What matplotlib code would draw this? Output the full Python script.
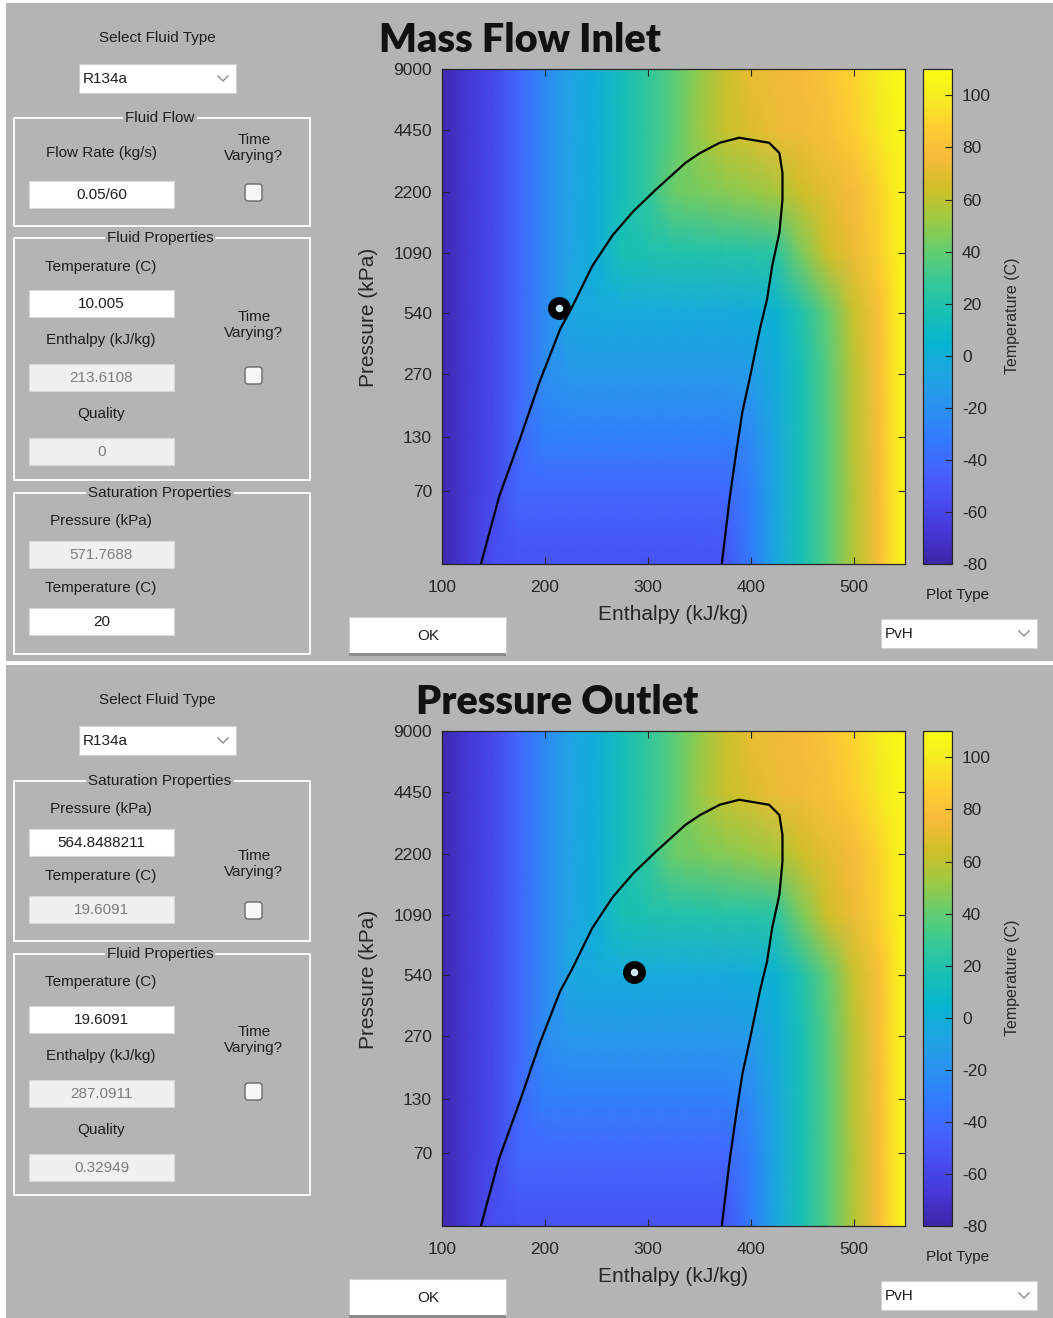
import numpy as np
import matplotlib.pyplot as plt
from matplotlib.colors import LinearSegmentedColormap
from matplotlib.patches import Rectangle, FancyBboxPatch

plt.rcParams['axes.unicode_minus'] = False
plt.rcParams['font.family'] = ['Liberation Sans', 'DejaVu Sans']

# temperature map (C) on an enthalpy / pressure grid
enthalpy = [100, 125, 150, 175, 200, 225, 250, 275, 300, 325,
            350, 375, 400, 425, 450, 475, 500, 525, 550]
pressure = [30, 70, 130, 270, 540, 1090, 2200, 4450, 9000]
temp_p30 = [-78, -67, -55, -53, -53, -53, -53, -53, -53, -53, -53, -52, -32, -5, 17, 36, 58, 79, 110]
temp_p70 = [-78, -67, -57, -42, -42, -42, -42, -42, -42, -42, -42, -42, -30, -5, 17, 36, 58, 79, 110]
temp_p130 = [-78, -67, -58, -40, -30, -30, -30, -30, -30, -30, -30, -30, -24, -4, 17, 36, 59, 79, 110]
temp_p270 = [-78, -67, -58, -42, -22, -15, -15, -15, -15, -15, -15, -15, -13, -2, 17, 37, 59, 80, 110]
temp_p540 = [-78, -67, -58, -42, -25, -6, -3, -3, -3, -3, -3, -3, -2, 3, 20, 40, 62, 80, 110]
temp_p1090 = [-78, -67, -58, -42, -25, -8, 0, 17, 19, 20, 20, 21, 21, 24, 46, 64, 73, 88, 110]
temp_p2200 = [-78, -67, -58, -42, -25, -8, 0, 15, 26, 42, 45, 48, 51, 55, 64, 70, 76, 90, 110]
temp_p4450 = [-78, -67, -58, -42, -25, -8, 0, 15, 26, 38, 52, 62, 68, 73, 75, 80, 87, 98, 110]
temp_p9000 = [-78, -67, -58, -42, -25, -8, 0, 15, 26, 38, 50, 62, 72, 74, 76, 82, 90, 100, 110]
temperature = [temp_p30, temp_p70, temp_p130, temp_p270, temp_p540,
               temp_p1090, temp_p2200, temp_p4450, temp_p9000]

# saturation dome, liquid side up to the critical point and down the vapour side
dome_h = [138, 156, 176, 195, 215, 227, 246, 266, 286, 308, 337, 351, 370, 389,
          418, 428, 431, 431, 428, 421, 416, 409, 399, 392, 386.5, 380, 372]
dome_p = [30, 66, 127, 245, 450, 586, 928, 1330, 1750, 2250, 3070, 3430, 3860, 4090,
          3860, 3430, 2720, 2010, 1370, 934, 635, 450, 253, 173, 113, 66, 30]

# state points shown in each panel
inlet_h, inlet_p = 213.6108, 571.7688
outlet_h, outlet_p = 287.0911, 564.8488211

p_ticks = [70, 130, 270, 540, 1090, 2200, 4450, 9000]
h_ticks = [100, 200, 300, 400, 500]
t_ticks = [-80, -60, -40, -20, 0, 20, 40, 60, 80, 100]

parula = LinearSegmentedColormap.from_list('parula', [
    (0 / 63, (0.2422, 0.1504, 0.6603)), (4 / 63, (0.2706, 0.2147, 0.8364)),
    (8 / 63, (0.2813, 0.3006, 0.9414)), (12 / 63, (0.2699, 0.3892, 0.9906)),
    (16 / 63, (0.1963, 0.4847, 0.9892)), (20 / 63, (0.1687, 0.5703, 0.9359)),
    (24 / 63, (0.1248, 0.6459, 0.8883)), (28 / 63, (0.0297, 0.7082, 0.8163)),
    (32 / 63, (0.0964, 0.7500, 0.7120)), (36 / 63, (0.2161, 0.7843, 0.5923)),
    (40 / 63, (0.3909, 0.8029, 0.4354)), (44 / 63, (0.6174, 0.7876, 0.2612)),
    (48 / 63, (0.8203, 0.7498, 0.1535)), (52 / 63, (0.9728, 0.7298, 0.2394)),
    (56 / 63, (0.9892, 0.8136, 0.1885)), (60 / 63, (0.9628, 0.9373, 0.1265)),
    (63 / 63, (0.9769, 0.9839, 0.0805))])

W, H = 1053, 1318
BG = '#b4b4b4'
TXT = '#1e1e1e'
fig = plt.figure(figsize=(W / 100, H / 100), dpi=100, facecolor='white')

# full-window layer in pixel units for the form controls
ui = fig.add_axes([0, 0, 1, 1])
ui.set_xlim(0, W)
ui.set_ylim(H, 0)
ui.axis('off')
ui.add_patch(Rectangle((6, 3), W - 6, 658, facecolor=BG, edgecolor='none'))
ui.add_patch(Rectangle((6, 665), W - 6, H - 665, facecolor=BG, edgecolor='none'))


def px_axes(x0, y0, x1, y1):
    return fig.add_axes([x0 / W, 1 - y1 / H, (x1 - x0) / W, (y1 - y0) / H])


def label(x, y, s, **kw):
    ui.text(x, y, s, ha='center', va='center', fontsize=11, color=TXT, **kw)


def edit_box(y, s, enabled=True):
    face = 'white' if enabled else '#f0f0f0'
    ui.add_patch(Rectangle((29, y), 145, 27, facecolor=face, edgecolor='#d8d8d8', lw=0.8))
    ui.text(101.5, y + 14, s, ha='center', va='center', fontsize=11,
            color=TXT if enabled else '#7c7c7c')


def checkbox(y):
    ui.add_patch(FancyBboxPatch((245, y), 17, 17, boxstyle='round,pad=0,rounding_size=3',
                                facecolor='#f6f6f6', edgecolor='#6a6a6a', lw=1))


def group_box(y0, y1, title):
    ui.add_patch(Rectangle((14, y0), 296, y1 - y0, fill=False, edgecolor='white', lw=1.3))
    ui.text(160, y0, title, ha='center', va='center', fontsize=11, color=TXT,
            bbox=dict(facecolor=BG, edgecolor='none', pad=1.5))


def dropdown(x, y, w, s):
    ui.add_patch(Rectangle((x, y), w, 29, facecolor='white', edgecolor='#d0d0d0', lw=0.8))
    ui.text(x + 4, y + 15, s, ha='left', va='center', fontsize=11, color=TXT)
    cx = x + w - 13
    ui.plot([cx - 5, cx, cx + 5], [y + 12, y + 17, y + 12], color='#8a8a8a', lw=1)


def ok_button(y):
    ui.add_patch(Rectangle((349, y), 157, 37, facecolor='white', edgecolor='#cfcfcf', lw=0.8))
    ui.add_patch(Rectangle((349, y + 36), 157, 2.5, facecolor='#8c8c8c', edgecolor='none'))
    ui.text(428, y + 19, 'OK', ha='center', va='center', fontsize=11, color=TXT)


def chart(top, title, title_x, point_h, point_p):
    x0, x1 = 441.7, 905
    y0, y1 = top + 69.3, top + 564.3
    ax = px_axes(x0, y0, x1, y1)
    hh, pp = np.meshgrid(enthalpy, pressure)
    mesh = ax.pcolormesh(hh, pp, np.array(temperature, dtype=float), shading='gouraud',
                         cmap=parula, vmin=-80, vmax=110, rasterized=True)
    ax.plot(dome_h, dome_p, color='black', lw=1.6)
    ax.plot([point_h], [point_p], 'o', ms=11, mfc='#cfe9f4', mec='black', mew=5.5)
    ax.set_yscale('log')
    ax.set_xlim(100, 550)
    ax.set_ylim(30, 9000)
    ax.set_yticks(p_ticks)
    ax.set_yticklabels([str(v) for v in p_ticks])
    ax.yaxis.set_minor_locator(plt.NullLocator())
    ax.set_xticks(h_ticks)
    ax.set_xticklabels([str(v) for v in h_ticks])
    ax.tick_params(direction='in', length=5, width=0.8, top=True, right=True,
                   labelsize=12.5, labelcolor='#262626', color='#262626')
    ax.tick_params(axis='y', pad=7)
    ax.tick_params(axis='x', pad=11)
    for sp in ax.spines.values():
        sp.set_color('#262626')
        sp.set_linewidth(0.9)

    cax = px_axes(922.7, y0, 952.3, y1)
    cb = fig.colorbar(mesh, cax=cax, ticks=t_ticks)
    cb.outline.set_edgecolor('#262626')
    cb.outline.set_linewidth(0.9)
    cax.tick_params(direction='in', length=5, width=0.8, labelsize=12.5,
                    labelcolor='#262626', color='#262626', pad=7)

    ui.text(title_x, top + 41, title, ha='center', va='center', fontsize=28.5,
            fontweight='heavy', family='Lato', color='#111111')
    ui.text(369, top + 317, 'Pressure (kPa)', rotation=90, ha='center', va='center',
            fontsize=15, color='#262626')
    ui.text(673, top + 615, 'Enthalpy (kJ/kg)', ha='center', va='center',
            fontsize=15, color='#262626')
    ui.text(1012, top + 316, 'Temperature (C)', rotation=90, ha='center', va='center',
            fontsize=11.5, color='#262626')

    label(958, top + 595, 'Plot Type')
    dropdown(881, top + 619, 156, 'PvH')
    ok_button(top + 617)
    label(157, top + 38, 'Select Fluid Type')
    dropdown(79, top + 64, 157, 'R134a')


# mass flow inlet panel
chart(0, 'Mass Flow Inlet', 520, inlet_h, inlet_p)
group_box(118, 226, 'Fluid Flow')
label(101, 153, 'Flow Rate (kg/s)')
label(254, 148, 'Time\nVarying?', linespacing=1.25)
edit_box(181, '0.05/60')
checkbox(184)
group_box(238, 480, 'Fluid Properties')
label(101, 267, 'Temperature (C)')
edit_box(290, '10.005')
label(254, 325, 'Time\nVarying?', linespacing=1.25)
label(101, 340, 'Enthalpy (kJ/kg)')
edit_box(364, '213.6108', enabled=False)
checkbox(367)
label(101, 414, 'Quality')
edit_box(438, '0', enabled=False)
group_box(493, 654, 'Saturation Properties')
label(101, 521, 'Pressure (kPa)')
edit_box(541, '571.7688', enabled=False)
label(101, 588, 'Temperature (C)')
edit_box(608, '20')

# pressure outlet panel
chart(662, 'Pressure Outlet', 557, outlet_h, outlet_p)
group_box(781, 941, 'Saturation Properties')
label(101, 809, 'Pressure (kPa)')
edit_box(829, '564.8488211')
label(254, 864, 'Time\nVarying?', linespacing=1.25)
label(101, 876, 'Temperature (C)')
edit_box(896, '19.6091', enabled=False)
checkbox(902)
group_box(954, 1195, 'Fluid Properties')
label(101, 982, 'Temperature (C)')
edit_box(1006, '19.6091')
label(254, 1040, 'Time\nVarying?', linespacing=1.25)
label(101, 1056, 'Enthalpy (kJ/kg)')
edit_box(1080, '287.0911', enabled=False)
checkbox(1083)
label(101, 1130, 'Quality')
edit_box(1154, '0.32949', enabled=False)

fig.savefig('out.png', dpi=100, facecolor='white')
